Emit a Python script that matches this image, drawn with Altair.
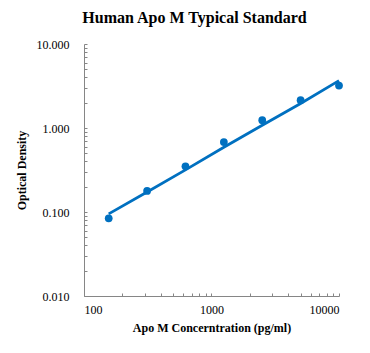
import altair as alt
import pandas as pd

conc = [156.25, 312.5, 625, 1250, 2500, 5000, 10000]
od = [0.084, 0.178, 0.35, 0.68, 1.24, 2.14, 3.2]
fit = [0.095, 0.173, 0.317, 0.589, 1.077, 1.96, 3.66]

x_ticks = [100, 200, 300, 400, 500, 600, 700, 800, 900,
           1000, 2000, 3000, 4000, 5000, 6000, 7000, 8000, 9000, 10000]
y_ticks = [0.01, 0.02, 0.03, 0.04, 0.05, 0.06, 0.07, 0.08, 0.09,
           0.1, 0.2, 0.3, 0.4, 0.5, 0.6, 0.7, 0.8, 0.9,
           1, 2, 3, 4, 5, 6, 7, 8, 9, 10]

df = pd.DataFrame({"conc": conc, "od": od, "fit": fit})

FONT = "Liberation Serif"
BLUE = "#0070C0"
is_major = "abs(log(datum.value)/LN10 - round(log(datum.value)/LN10)) < 1e-6"

xscale = alt.Scale(type="log", domain=[100, 10000], nice=False)
yscale = alt.Scale(type="log", domain=[0.01, 10], nice=False)

xaxis = alt.Axis(
    title="Apo M Concerntration (pg/ml)", values=x_ticks,
    labelExpr=f"{is_major} ? format(datum.value, 'd') : ''",
    labelOverlap=False, labelFont=FONT, labelFontSize=12, labelColor="black",
    titleFont=FONT, titleFontSize=12, titleFontWeight="bold", titleColor="black",
    titlePadding=7, labelPadding=11, grid=False,
    domainColor="#868686", tickColor="#868686", tickSize={"expr": "-3"},
)
yaxis = alt.Axis(
    title="Optical Density", values=y_ticks,
    labelExpr=f"{is_major} ? format(datum.value, '.3f') : ''",
    labelOverlap=False, labelFont=FONT, labelFontSize=12, labelColor="black",
    titleFont=FONT, titleFontSize=12, titleFontWeight="bold", titleColor="black",
    titlePadding=8, labelPadding=18, grid=False,
    domainColor="#868686", tickColor="#868686", tickSize={"expr": "-3"},
)

base = alt.Chart(df)
line = base.mark_line(color=BLUE, strokeWidth=2.8).encode(
    x=alt.X("conc:Q", scale=xscale, axis=xaxis),
    y=alt.Y("fit:Q", scale=yscale, axis=yaxis),
)
pts = base.mark_circle(color=BLUE, size=60, opacity=1).encode(
    x=alt.X("conc:Q", scale=xscale),
    y=alt.Y("od:Q", scale=yscale),
)

chart = (line + pts).properties(
    width=255, height=252,
    title=alt.TitleParams(
        "Human Apo M Typical Standard", font=FONT, fontSize=16,
        fontWeight="bold", color="black", anchor="middle", dx=-17, offset=12,
    ),
    autosize=alt.AutoSizeParams(type="none"),
    padding={"left": 84, "top": 44, "right": 31, "bottom": 57},
).configure_view(stroke=None)

chart.save("out.html", embed_options={"renderer": "svg", "actions": False})
